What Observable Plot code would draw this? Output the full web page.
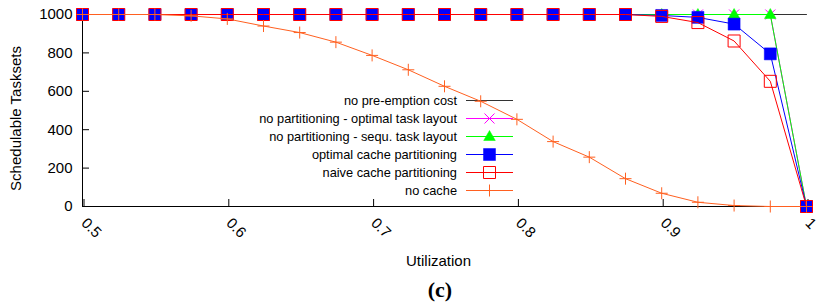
<!DOCTYPE html>
<html><head><meta charset="utf-8">
<script src="https://cdn.jsdelivr.net/npm/d3@7"></script>
<script src="https://cdn.jsdelivr.net/npm/@observablehq/plot@0.6"></script>
<style>
body{margin:0;background:#fff;}
#wrap{position:relative;width:817px;height:304px;background:#fff;font-family:"Liberation Sans",Arial,sans-serif;overflow:hidden;}
#legend{position:absolute;left:0;top:0;}
#plot{position:absolute;left:0;top:0;}
#cap{position:absolute;left:0;top:276px;width:880px;text-align:center;font:bold 22px "Liberation Serif","Times New Roman",serif;line-height:28px;color:#000;}
</style></head><body>
<div id="wrap"><svg id="legend" width="817" height="276"></svg><div id="plot"></div><div id="cap">(c)</div></div>
<script>
// ---- data ----
const utilization = [0.5,0.525,0.55,0.575,0.6,0.625,0.65,0.675,0.7,0.725,0.75,0.775,0.8,0.825,0.85,0.875,0.9,0.925,0.95,0.975,1.0];
const noPreemptionCost   = [1000,1000,1000,1000,1000,1000,1000,1000,1000,1000,1000,1000,1000,1000,1000,1000,1000,1000,1000,1000,1000];
const optimalTaskLayout  = [1000,1000,1000,1000,1000,1000,1000,1000,1000,1000,1000,1000,1000,1000,1000,1000,1000,1000,1000,1000,0];
const sequTaskLayout     = [1000,1000,1000,1000,1000,1000,1000,1000,1000,1000,1000,1000,1000,1000,1000,1000,1000,1000,1000,1000,0];
const optimalCachePart   = [1000,1000,1000,1000,1000,1000,1000,1000,1000,1000,1000,1000,1000,1000,1000,1000,995,985,950,795,0];
const naiveCachePart     = [1000,1000,1000,1000,1000,1000,1000,1000,1000,1000,1000,1000,1000,1000,1000,1000,990,958,862,652,0];
const noCache            = [1000,1000,1000,993,977,940,906,856,787,712,626,548,454,338,257,145,69,22,5,0,0];

const seriesNames  = ["no pre-emption cost","no partitioning - optimal task layout","no partitioning - sequ. task layout","optimal cache partitioning","naive cache partitioning","no cache"];
const seriesValues = [noPreemptionCost, optimalTaskLayout, sequTaskLayout, optimalCachePart, naiveCachePart, noCache];
const seriesColors = ["#000000","#ff00ff","#00ff00","#0000ff","#ff0000","#ff6020"];
const seriesMarkers = ["none","times","triangle","squareFilled","squareOpen","plus"];

const xTicks = [0.5,0.6,0.7,0.8,0.9,1.0];
const xTickLabels = ["0.5","0.6","0.7","0.8","0.9","1"];
const yTicks = [0,200,400,600,800,1000];
const yTickLabels = ["0","200","400","600","800","1000"];

// ---- marker shapes ----
const sym = {
  plus:    {draw(c){c.moveTo(-6,0);c.lineTo(6,0);c.moveTo(0,-6);c.lineTo(0,6);}},
  times:   {draw(c){c.moveTo(-5,-5);c.lineTo(5,5);c.moveTo(-5,5);c.lineTo(5,-5);}},
  square:  {draw(c){c.moveTo(-6,-6);c.lineTo(6,-6);c.lineTo(6,6);c.lineTo(-6,6);c.closePath();}},
  triangle:{draw(c){c.moveTo(0,-6);c.lineTo(5.8,4);c.lineTo(-5.8,4);c.closePath();}}
};
function markerStyle(m, color){
  switch(m){
    case "plus": return {symbol: sym.plus, fill: "none", stroke: color, strokeWidth: 1};
    case "times": return {symbol: sym.times, fill: "none", stroke: color, strokeWidth: 1};
    case "triangle": return {symbol: sym.triangle, fill: color, stroke: color, strokeWidth: 0.5};
    case "squareFilled": return {symbol: sym.square, fill: color, stroke: color, strokeWidth: 0.5};
    case "squareOpen": return {symbol: sym.square, fill: "none", stroke: color, strokeWidth: 1};
    default: return null;
  }
}

const rows = seriesNames.map((name, s) => utilization.map((u, i) => ({u, v: seriesValues[s][i], s: name})));

const marks = [
  Plot.ruleY([0], {stroke: "#000", strokeWidth: 1}),
  Plot.ruleX([0.5], {stroke: "#000", strokeWidth: 1}),
  Plot.axisX({ticks: xTicks, tickFormat: (d) => xTickLabels[xTicks.indexOf(d)], tickSize: -7, tickRotate: 45,
    textAnchor: "start", tickPadding: 21, dx: 1.5, fontSize: 15, label: null, stroke: "#000"}),
  Plot.axisY({ticks: yTicks, tickFormat: (d) => yTickLabels[yTicks.indexOf(d)], tickSize: -7, tickPadding: 17,
    fontSize: 15, label: null, stroke: "#000"}),
  Plot.text(["Utilization"], {frameAnchor: "bottom", dy: 55, dx: -6, fontSize: 15, textAnchor: "middle", lineAnchor: "middle", fill: "#000"}),
  Plot.text(["Schedulable Tasksets"], {frameAnchor: "left", dx: -66, dy: 8, rotate: -90, fontSize: 15, textAnchor: "middle", lineAnchor: "middle", fill: "#000"})
];
seriesNames.forEach((name, s) => {
  const color = seriesColors[s];
  marks.push(Plot.line(rows[s], {x: "u", y: "v", stroke: s === 0 ? "#333" : color, strokeWidth: 1}));
  const ms = markerStyle(seriesMarkers[s], color);
  if (ms) marks.push(Plot.dot(rows[s], {x: "u", y: "v", ...ms}));
});

const chart = Plot.plot({
  width: 817, height: 276,
  marginLeft: 82, marginRight: 11, marginTop: 14, marginBottom: 70,
  x: {domain: [0.5, 1]},
  y: {domain: [0, 1000]},
  style: {fontFamily: '"Liberation Sans", Arial, sans-serif', background: "transparent", color: "#000", overflow: "visible"},
  marks
});
document.getElementById("plot").appendChild(chart);

// ---- legend (drawn beneath the plot so the curves cross over it) ----
const lg = d3.select("#legend");
const rowY0 = 100, rowStep = 17.9;
seriesNames.forEach((name, s) => {
  const y = Math.round(rowY0 + s * rowStep) + 0.5;
  const color = seriesColors[s];
  lg.append("text").attr("x", 457).attr("y", y).attr("text-anchor", "end").attr("dy", "0.35em")
    .attr("font-size", 12.8).attr("font-family", '"Liberation Sans", Arial, sans-serif').attr("fill", "#000").text(name);
  lg.append("line").attr("x1", 466).attr("x2", 513).attr("y1", y).attr("y2", y)
    .attr("stroke", s === 0 ? "#333" : color).attr("stroke-width", 1);
  const ms = markerStyle(seriesMarkers[s], color);
  if (ms) {
    lg.append("path").attr("transform", `translate(489.5,${y})`).attr("d", d3.symbol(ms.symbol)())
      .attr("fill", ms.fill).attr("stroke", ms.stroke).attr("stroke-width", ms.strokeWidth);
  }
});
</script>
</body></html>
